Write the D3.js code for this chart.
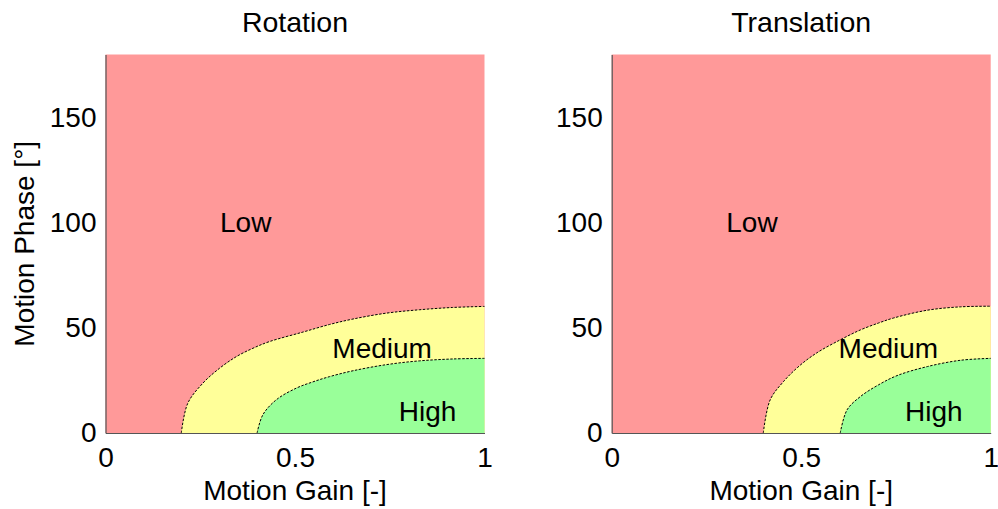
<!DOCTYPE html>
<html>
<head>
<meta charset="utf-8">
<script src="https://cdn.jsdelivr.net/npm/d3@7"></script>
<style>
  html, body { margin: 0; padding: 0; background: #fff; }
  svg text { font-family: "Liberation Sans", Arial, sans-serif; fill: #000; }
</style>
</head>
<body>
<svg id="chart" width="998" height="509"></svg>
<script>
// Panel titles and region names
const panelTitles = ["Rotation", "Translation"];
const regionNames = ["Low", "Medium", "High"];

// Axis ticks
const gainTicks = [0, 0.5, 1];
const phaseTicks = [0, 50, 100, 150];

// Rotation: Low/Medium boundary
const rotMedGain  = [0.2, 0.217, 0.257, 0.301, 0.345, 0.389, 0.433, 0.521, 0.591, 0.653, 0.741, 0.828, 0.916, 1.0];
const rotMedPhase = [0, 14.1, 23.7, 30.8, 36.3, 40.3, 43.5, 48.0, 51.6, 54.2, 57.0, 58.6, 59.7, 60.2];
// Rotation: Medium/High boundary
const rotHighGain  = [0.4, 0.415, 0.45, 0.503, 0.547, 0.591, 0.653, 0.741, 0.828, 0.916, 1.0];
const rotHighPhase = [0, 8.6, 15.7, 21.3, 24.3, 26.8, 29.6, 32.5, 34.3, 35.2, 35.5];

// Translation: Low/Medium boundary
const traMedGain  = [0.4, 0.418, 0.453, 0.497, 0.542, 0.603, 0.656, 0.704, 0.744, 0.833, 0.921, 1.0];
const traMedPhase = [0, 15.7, 24.4, 32.2, 38.2, 44.3, 49.0, 52.3, 54.7, 58.4, 60.0, 60.3];
// Translation: Medium/High boundary
const traHighGain  = [0.603, 0.621, 0.656, 0.704, 0.753, 0.833, 0.921, 1.0];
const traHighPhase = [0, 11.0, 17.3, 22.9, 27.3, 31.6, 34.6, 35.5];

// Where each region name sits, in (gain, phase)
const labelGain  = [0.37, 0.73, 0.85];
const labelPhase = [100, 40, 10];

const regionColors = ["#ff9999", "#ffff99", "#99ff99"];

const panels = [
  { title: panelTitles[0], med: [rotMedGain, rotMedPhase], high: [rotHighGain, rotHighPhase], left: 105.5, yLabel: true },
  { title: panelTitles[1], med: [traMedGain, traMedPhase], high: [traHighGain, traHighPhase], left: 611.7, yLabel: false }
];

const plotW = 379, plotTop = 54.5, plotBottom = 433;
const fontSize = 28;
const svg = d3.select("#chart");
const contourCurve = d3.curveCatmullRom.alpha(0.5);

panels.forEach((p) => {
  const x = d3.scaleLinear().domain([0, 1]).range([p.left, p.left + plotW]);
  const y = d3.scaleLinear().domain([0, 180]).range([plotBottom, plotTop]);
  const g = svg.append("g");

  // Low region fills the whole plot
  g.append("rect")
    .attr("x", x(0)).attr("y", y(180))
    .attr("width", x(1) - x(0)).attr("height", y(0) - y(180))
    .attr("fill", regionColors[0]);

  const zip = (arr) => arr[0].map((v, k) => [v, arr[1][k]]);
  const area = d3.area().x(d => x(d[0])).y0(y(0)).y1(d => y(d[1])).curve(contourCurve);
  const line = d3.line().x(d => x(d[0])).y(d => y(d[1])).curve(contourCurve);

  // Medium and High regions, each bounded by a dashed contour
  [p.med, p.high].forEach((b, k) => {
    const pts = zip(b);
    g.append("path").attr("d", area(pts)).attr("fill", regionColors[k + 1]);
    g.append("path").attr("d", line(pts))
      .attr("fill", "none").attr("stroke", "#000")
      .attr("stroke-width", 1).attr("stroke-dasharray", "2.5,1.5");
  });

  // Region names
  regionNames.forEach((name, k) => {
    g.append("text")
      .attr("x", x(labelGain[k])).attr("y", y(labelPhase[k]))
      .attr("text-anchor", "middle").attr("dominant-baseline", "central")
      .attr("font-size", fontSize).text(name);
  });

  // Axes
  const xAxis = d3.axisBottom(x).tickValues(gainTicks).tickSize(0).tickPadding(14)
    .tickFormat(d => d === 0 || d === 1 ? String(d) : d3.format(".1f")(d));
  const gx = g.append("g").attr("transform", `translate(0,${plotBottom})`).call(xAxis);
  gx.select(".domain").attr("stroke", "#555").attr("stroke-width", 1.2);
  gx.selectAll("text").attr("font-size", fontSize).attr("font-family", "Liberation Sans, Arial, sans-serif").attr("fill", "#000");

  const yAxis = d3.axisLeft(y).tickValues(phaseTicks).tickSize(0).tickPadding(9);
  const gy = g.append("g").attr("transform", `translate(${p.left},0)`).call(yAxis);
  gy.select(".domain").attr("stroke", "#555").attr("stroke-width", 1.2);
  gy.selectAll("text").attr("font-size", fontSize).attr("font-family", "Liberation Sans, Arial, sans-serif").attr("fill", "#000");

  // Title and axis labels
  g.append("text").attr("x", (x(0) + x(1)) / 2).attr("y", 32)
    .attr("text-anchor", "middle").attr("font-size", 28.5).text(p.title);
  g.append("text").attr("x", (x(0) + x(1)) / 2).attr("y", 500)
    .attr("text-anchor", "middle").attr("font-size", fontSize).text("Motion Gain [-]");
  if (p.yLabel) {
    g.append("text")
      .attr("transform", `translate(${p.left - 72},${(plotTop + plotBottom) / 2}) rotate(-90)`)
      .attr("text-anchor", "middle").attr("font-size", fontSize).text("Motion Phase [°]");
  }
});
</script>
</body>
</html>
